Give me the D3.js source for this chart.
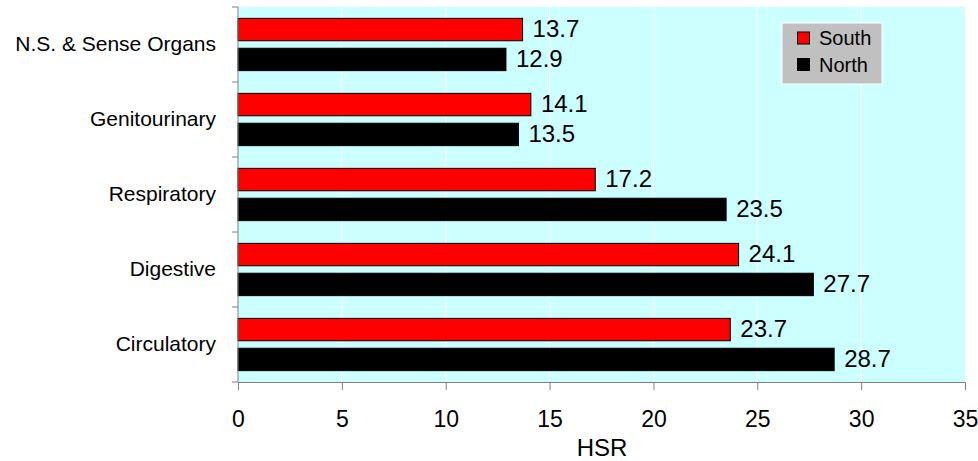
<!DOCTYPE html>
<html><head><meta charset="utf-8">
<script src="https://d3js.org/d3.v7.min.js"></script>
<style>body{margin:0;background:#fff}svg{display:block;font-family:"Liberation Sans",Arial,sans-serif}</style>
</head><body><svg id="c" width="978" height="461"></svg>
<script>
const categories = ["N.S. & Sense Organs","Genitourinary","Respiratory","Digestive","Circulatory"];
const seriesNames = ["South","North"];
const south = [13.7,14.1,17.2,24.1,23.7];
const north = [12.9,13.5,23.5,27.7,28.7];
const xTicks = [0,5,10,15,20,25,30,35];
const colors = ["#ff0000","#000000"];

const svg = d3.select("#c");
const L=238,R=965,T=7,B=382;
const x = d3.scaleLinear().domain([0,35]).range([L,R]);
const y = d3.scaleBand().domain(categories).range([T,B]).paddingInner(0).paddingOuter(0);
const inner = d3.scaleBand().domain(seriesNames).range([0,y.bandwidth()]).paddingInner(0.25).paddingOuter(0.38);

svg.append("rect").attr("x",L).attr("y",T).attr("width",R-L).attr("height",B-T).attr("fill","#ccffff");
svg.append("g").selectAll("line").data(xTicks.filter(d=>d>0&&d<35)).join("line")
  .attr("x1",d=>x(d)).attr("x2",d=>x(d)).attr("y1",T).attr("y2",B).attr("stroke","#ffffff").attr("stroke-width",1);

const data = [];
categories.forEach((c,i)=>{
  data.push({c,s:"South",v:south[i]});
  data.push({c,s:"North",v:north[i]});
});
svg.append("g").selectAll("rect").data(data).join("rect")
  .attr("x",x(0)).attr("y",d=>y(d.c)+inner(d.s))
  .attr("width",d=>x(d.v)-x(0)).attr("height",inner.bandwidth())
  .attr("fill",d=>colors[seriesNames.indexOf(d.s)]).attr("stroke","#000").attr("stroke-width",1);
svg.append("g").selectAll("text").data(data).join("text")
  .attr("x",d=>x(d.v)+10).attr("y",d=>y(d.c)+inner(d.s)+inner.bandwidth()/2)
  .attr("dy","0.3em").attr("font-size",24).attr("fill","#000").text(d=>d.v.toFixed(1));

// x axis
const xa = svg.append("g").attr("transform",`translate(0,${B})`)
  .call(d3.axisBottom(x).tickValues(xTicks).tickSize(8).tickPadding(12).tickSizeOuter(0));
xa.select(".domain").attr("stroke","#808080");
xa.selectAll(".tick line").attr("stroke","#808080");
xa.selectAll("text").attr("y",45).attr("dy",null).attr("font-size",23).attr("fill","#000").attr("font-family","Liberation Sans, Arial, sans-serif");

// y axis
const ya = svg.append("g").attr("transform",`translate(${L},0)`);
ya.append("line").attr("x1",0).attr("x2",0).attr("y1",T).attr("y2",B).attr("stroke","#808080");
const bounds = categories.map(c=>y(c)).concat([B]);
ya.selectAll("line.t").data(bounds).join("line").attr("class","t")
  .attr("x1",-6).attr("x2",0).attr("y1",d=>d).attr("y2",d=>d).attr("stroke","#808080");
svg.append("g").selectAll("text").data(categories).join("text")
  .attr("x",216).attr("y",d=>y(d)+y.bandwidth()/2).attr("dy","0.32em")
  .attr("text-anchor","end").attr("font-size",21).attr("fill","#000").text(d=>d);

svg.append("text").attr("x",(L+R)/2+0.5).attr("y",456).attr("text-anchor","middle")
  .attr("font-size",24).attr("fill","#000").text("HSR");

// legend
const lg = svg.append("g");
lg.append("rect").attr("x",782).attr("y",23).attr("width",100).attr("height",61).attr("fill","#c0c0c0").attr("stroke","#ffffff").attr("stroke-width",1);
seriesNames.forEach((s,i)=>{
  const cy = 38 + i*26.5;
  lg.append("rect").attr("x",797.5).attr("y",cy-6).attr("width",12).attr("height",12)
    .attr("fill",colors[i]).attr("stroke","#000").attr("stroke-width",1);
  lg.append("text").attr("x",819).attr("y",cy).attr("dy","0.36em").attr("font-size",20).attr("fill","#000").text(s);
});
</script></body></html>
